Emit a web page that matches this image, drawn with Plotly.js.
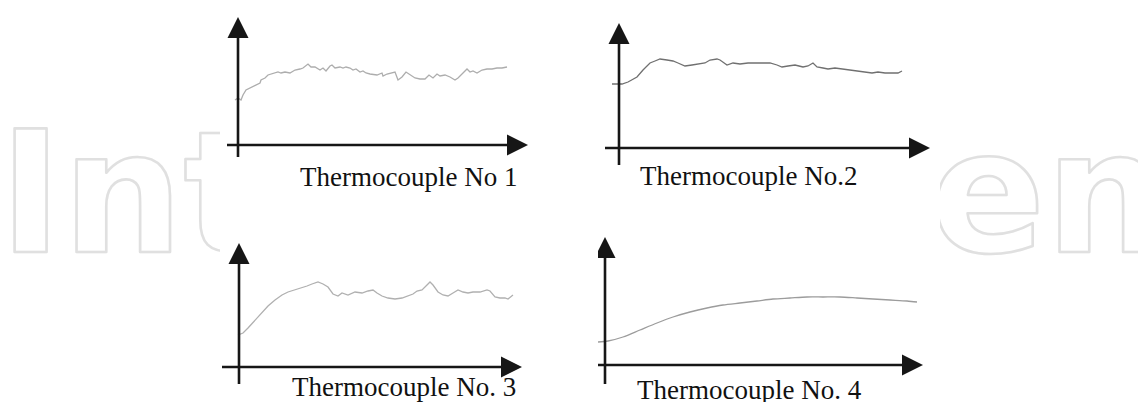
<!DOCTYPE html>
<html><head><meta charset="utf-8">
<script src="https://cdn.plot.ly/plotly-3.0.1.min.js"></script>
<style>
html,body{margin:0;padding:0;background:#fff;}
#chart{width:1138px;height:402px;}
g.annotation[data-index="0"] text.annotation-text,
g.annotation[data-index="1"] text.annotation-text{fill:none !important;stroke:#e0e0e0;stroke-width:2.6px;stroke-linejoin:round;}
</style></head>
<body><div id="chart"></div>
<script>
// Relative time (arbitrary units) and relative temperature (arbitrary units)
const time1 = [1,4,7,9,12,16,19,22,26,27,31,34,37,41,44,47,51,56,61,66,69,74,77,81,86,89,92,96,98,101,106,109,112,116,119,122,126,129,132,136,143,148,149,153,159,161,164,168,172,176,181,186,191,195,199,203,206,211,216,221,224,229,233,236,239,243,248,253,258,263,268,273];
const temp1 = [45,47,45,50,55,57,58,60,62,65,67,70,71,72,73,72,73,72,75,76,77,81,78,78,75,77,74,79,80,77,78,77,78,77,75,76,73,74,72,71,70,72,69,71,72,73,65,68,73,70,67,66,66,70,67,71,69,70,68,65,67,72,76,73,74,72,75,76,76,77,77,78];

const time2 = [1,11,17,26,32,39,44,49,56,62,67,74,81,89,94,99,106,109,116,122,129,137,149,159,166,171,177,184,192,197,202,206,212,217,224,232,239,246,254,261,267,274,281,287,291];
const temp2 = [64,64,66,71,78,85,87,89,88,87,85,82,83,84,85,88,89,88,83,85,84,85,85,85,83,81,82,83,81,82,85,81,80,79,80,79,78,77,76,75,76,75,75,75,77];

const time3 = [0,5,10,17,24,30,37,44,50,57,64,69,74,80,85,90,95,100,104,110,117,124,130,135,139,144,150,157,164,169,175,179,184,189,192,195,200,205,210,215,220,225,230,235,242,249,252,257,262,267,270,275];
const temp3 = [32,34,39,47,55,61,67,72,75,77,79,81,83,85,83,80,73,71,74,72,75,74,76,77,74,71,69,68,69,71,73,76,77,82,85,82,75,72,71,74,77,75,74,75,75,77,76,70,69,69,68,72];

const time4 = [0,10,25,42,59,75,92,109,125,142,159,175,192,209,225,242,259,275,292,309,319];
const temp4 = [23,24,28,35,42,48,53,57,60,62,64,66,67,68,68,68,67,66,65,64,63];

const captions = ['Thermocouple No 1','Thermocouple No.2','Thermocouple No. 3','Thermocouple No. 4'];
const watermarkLeft = 'Int';
const watermarkRight = 'en';

// ---- layout (pixel geometry) ----
const W = 1138, H = 402;
const panels = [
  {time: time1, temp: temp1, box:{l:227,r:528,t:17,b:157}, start:234, origin:{x:238,y:145}, color:'#adadad', shape:'linear', cap:{x:298,y:177}},
  {time: time2, temp: temp2, box:{l:605,r:930,t:23,b:165}, start:611, origin:{x:619,y:148}, color:'#707070', shape:'linear', cap:{x:638,y:176}},
  {time: time3, temp: temp3, box:{l:222,r:522,t:243,b:384}, start:238, origin:{x:239,y:367}, color:'#b0b0b0', shape:'linear', cap:{x:290,y:387}},
  {time: time4, temp: temp4, box:{l:598,r:923,t:237,b:384}, start:598, origin:{x:605,y:365}, color:'#9c9c9c', shape:'spline', cap:{x:635,y:390}}
];
const AL = 21, AW = 21, axisColor = '#161616', axisWidth = 2.6;

const data = [], shapes = [], annotations = [];
const layout = {
  width: W, height: H, margin:{l:0,r:0,t:0,b:0},
  paper_bgcolor:'#fff', plot_bgcolor:'rgba(0,0,0,0)', showlegend:false
};

// watermark (moved behind the figure after drawing)
const wmFont = {family:'DejaVu Sans', size:170, color:'#e0e0e0', weight:'bold'};
annotations.push({xref:'paper', yref:'paper', x: -3/W, y: 1-193/H, xanchor:'left', yanchor:'middle',
  text: watermarkLeft, showarrow:false, font:wmFont});
annotations.push({xref:'paper', yref:'paper', x: 928/W, y: 1-193/H, xanchor:'left', yanchor:'middle',
  text: watermarkRight, showarrow:false, font:wmFont});
// white figure background that hides the middle of the watermark
shapes.push({type:'rect', xref:'paper', yref:'paper', x0:220/W, x1:940/W, y0:0, y1:1,
  fillcolor:'#ffffff', line:{width:0}, layer:'below'});

panels.forEach((p, i) => {
  const n = i === 0 ? '' : String(i+1);
  const xr = [p.box.l - p.start, p.box.r - p.start];
  const yr = [p.origin.y - p.box.b, p.origin.y - p.box.t];
  layout['xaxis'+n] = {domain:[p.box.l/W, p.box.r/W], range:xr, visible:false, fixedrange:true, anchor:'y'+n};
  layout['yaxis'+n] = {domain:[1-p.box.b/H, 1-p.box.t/H], range:yr, visible:false, fixedrange:true, anchor:'x'+n};
  data.push({type:'scatter', mode:'lines', x:p.time, y:p.temp, xaxis:'x'+n, yaxis:'y'+n,
    line:{color:p.color, width:1.3, shape:p.shape, smoothing:0.8}, hoverinfo:'skip'});
  const ox = p.origin.x - p.start;
  const xref = 'x'+n, yref = 'y'+n;
  const line = {color:axisColor, width:axisWidth};
  shapes.push({type:'line', xref, yref, x0:xr[0], x1:xr[1]-AL+2, y0:0, y1:0, line});
  shapes.push({type:'line', xref, yref, x0:ox, x1:ox, y0:yr[0], y1:yr[1]-AL+2, line});
  shapes.push({type:'path', xref, yref, fillcolor:axisColor, line:{width:0},
    path:`M ${xr[1]-AL} ${-AW/2} L ${xr[1]} 0 L ${xr[1]-AL} ${AW/2} Z`});
  shapes.push({type:'path', xref, yref, fillcolor:axisColor, line:{width:0},
    path:`M ${ox-AW/2} ${yr[1]-AL} L ${ox} ${yr[1]} L ${ox+AW/2} ${yr[1]-AL} Z`});
  annotations.push({xref:'paper', yref:'paper', x:p.cap.x/W, y:1-p.cap.y/H, xanchor:'left', yanchor:'middle',
    text:captions[i], showarrow:false, font:{family:'Liberation Serif', size:27, color:'#111'}});
});
layout.shapes = shapes;
layout.annotations = annotations;

Plotly.newPlot('chart', data, layout, {staticPlot:true, displayModeBar:false}).then(gd => {
  // put the watermark behind the figure layers
  const paper = gd.querySelector('svg.main-svg');
  const below = paper && paper.querySelector(':scope > g.layer-below');
  if (!below) return;
  ['0','1'].forEach(idx => {
    const g = gd.querySelector('g.annotation[data-index="' + idx + '"]');
    if (g) paper.insertBefore(g, below);
  });
});
</script>
</body></html>
